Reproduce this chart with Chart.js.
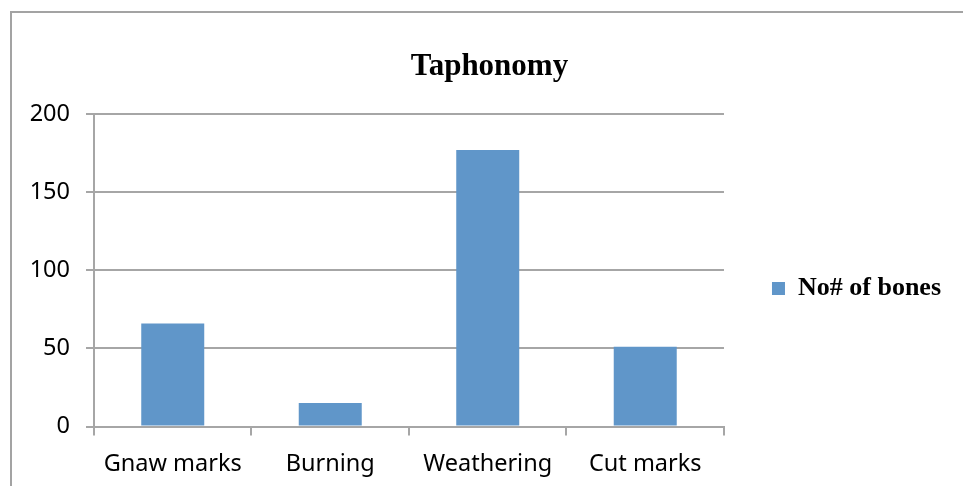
<!DOCTYPE html>
<html>
<head>
<meta charset="utf-8">
<script src="https://cdn.jsdelivr.net/npm/chart.js@4"></script>
<style>
  html, body { margin: 0; padding: 0; background: #ffffff; }
  #wrap { position: relative; width: 963px; height: 486px; overflow: hidden; }
  #frame {
    position: absolute; left: 10px; top: 11px; right: -4px; bottom: -4px;
    border-left: 2px solid #a3a3a3; border-top: 2px solid #a3a3a3;
  }
  #chart { position: absolute; left: 0; top: 0; }
</style>
</head>
<body>
<div id="wrap">
  <div id="frame"></div>
  <canvas id="chart" width="963" height="486"></canvas>
</div>
<script>
// Taphonomic modifications recorded on the bone assemblage
const categories = ['Gnaw marks', 'Burning', 'Weathering', 'Cut marks'];
const boneCounts = [66, 15, 177, 51];
const seriesName = 'No# of bones';
const chartTitle = 'Taphonomy';
const yTicks = [0, 50, 100, 150, 200];

const gridGrey = '#a6a6a6';
const barBlue = '#6096c9';
const axisFont = { family: '"Noto Sans", sans-serif', size: 23.5 };
const serifBold = (size) => ({ family: '"Liberation Serif", "Times New Roman", serif', size, weight: 'bold' });

new Chart(document.getElementById('chart'), {
  type: 'bar',
  data: {
    labels: categories,
    datasets: [{
      label: seriesName,
      data: boneCounts,
      backgroundColor: barBlue,
      borderWidth: 0,
      barPercentage: 0.4,
      categoryPercentage: 1.0
    }]
  },
  options: {
    responsive: false,
    animation: false,
    events: [],
    layout: { padding: { left: 28, right: 12, top: 0, bottom: 0 } },
    plugins: {
      tooltip: { enabled: false },
      title: {
        display: true,
        text: chartTitle,
        color: '#000000',
        font: serifBold(31),
        padding: { top: 48, bottom: 29 }
      },
      legend: {
        position: 'right',
        fullSize: false,
        title: { display: true, text: '', padding: { top: 11, bottom: 11 }, font: { size: 12 } },
        labels: {
          color: '#000000',
          font: serifBold(26),
          boxWidth: 13,
          boxHeight: 13,
          padding: 48
        }
      }
    },
    scales: {
      x: {
        grid: {
          offset: true,
          drawOnChartArea: false,
          drawTicks: true,
          tickLength: 9,
          color: gridGrey,
          lineWidth: 2
        },
        border: { display: true, color: gridGrey, width: 2 },
        ticks: { color: '#000000', font: axisFont, padding: 15, maxRotation: 0 },
        afterFit: (scale) => { scale.height = 59.5; }
      },
      y: {
        min: 0,
        max: 200,
        afterBuildTicks: (scale) => { scale.ticks = yTicks.map(v => ({ value: v })); },
        grid: {
          color: gridGrey,
          lineWidth: 2,
          drawTicks: true,
          tickLength: 8
        },
        border: { display: true, color: gridGrey, width: 2 },
        ticks: { color: '#000000', font: axisFont, padding: 16 },
        afterFit: (scale) => { scale.width = 66; }
      }
    }
  }
});
</script>
</body>
</html>
